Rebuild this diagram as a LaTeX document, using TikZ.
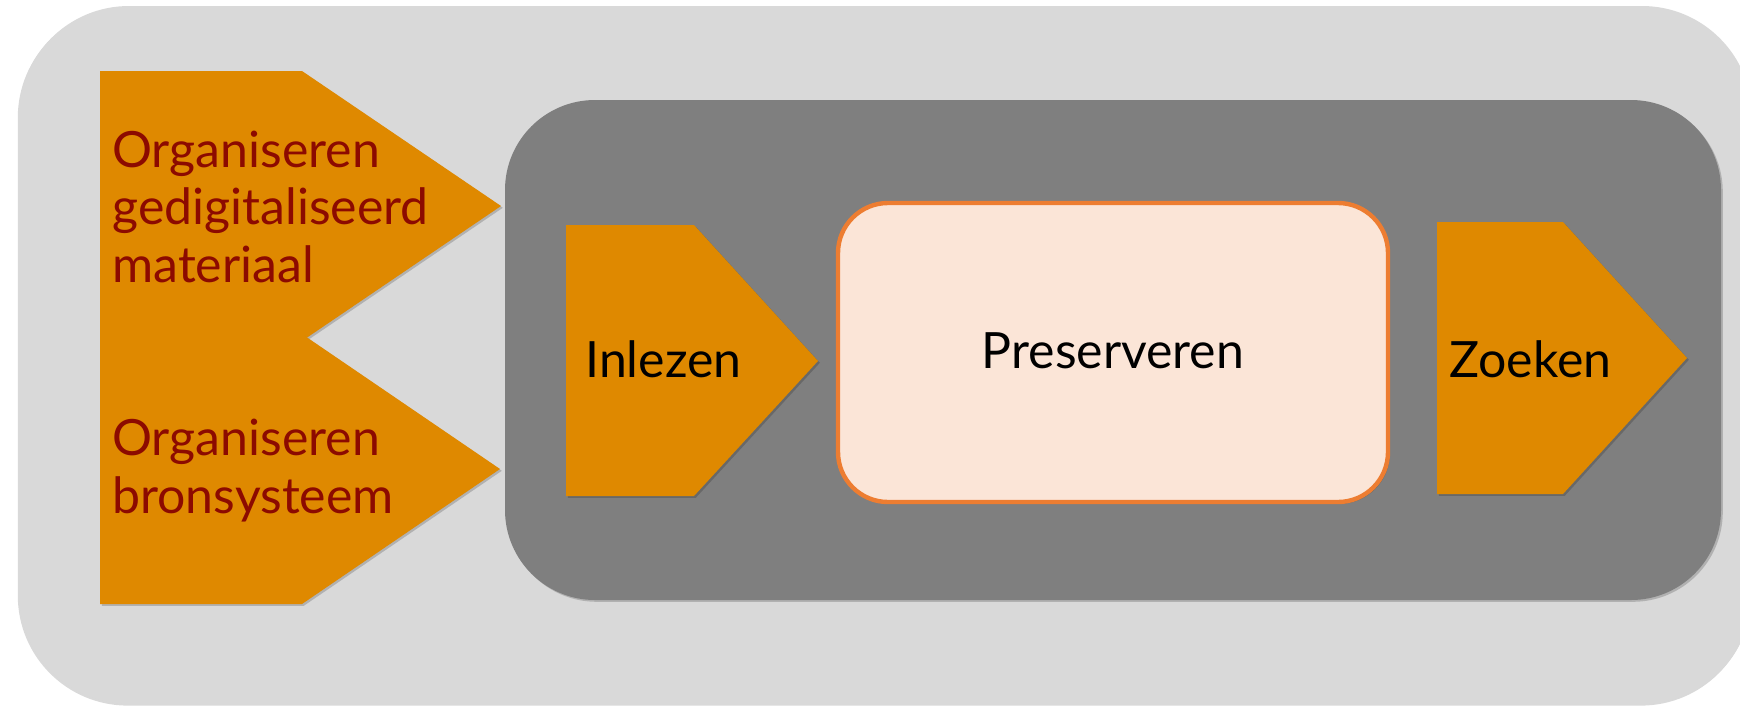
\documentclass[tikz,border=0pt]{standalone}
\usepackage{fontspec}
\setmainfont{Lato}
\usetikzlibrary{shadows}

\definecolor{outergrey}{HTML}{D9D9D9}
\definecolor{innergrey}{HTML}{7F7F7F}
\definecolor{steporange}{HTML}{DF8900}
\definecolor{labelred}{HTML}{8C0A00}
\definecolor{keepfill}{HTML}{FBE5D7}
\definecolor{keepline}{HTML}{ED7D31}

\tikzset{
  softshadow/.style={drop shadow={shadow xshift=.9pt, shadow yshift=-.9pt, opacity=.18, fill=black}},
  outerpanel/.style={fill=outergrey, rounded corners=55pt, drop shadow={shadow xshift=-.6pt, shadow yshift=-.8pt, opacity=.15, fill=black}},
  innerpanel/.style={fill=innergrey, rounded corners=45pt, softshadow},
  chevron/.style={fill=steporange, softshadow},
  keepbox/.style={fill=keepfill, draw=keepline, line width=2.2pt, rounded corners=25pt, softshadow},
  steptext/.style={font=\fontsize{25}{28.75}\selectfont, inner sep=0pt, anchor=base west, align=left},
}

\begin{document}
\begin{tikzpicture}[x=0.5pt, y=-0.5pt]
\useasboundingbox (0,0) rectangle (1740,708);

%% Outer and inner panels
\path[outerpanel] (19,6) rectangle (1752,704);
\path[innerpanel] (505,100) rectangle (1721,600);

%% Left chevrons: gedigitaliseerd materiaal, then bronsysteem on top of it
\path[chevron] (100,71) -- (302,71) -- (501,206) -- (302,341) -- (100,341) -- cycle;
\node[steptext, text=labelred] (orgdig) at (112,282) {Organiseren\\gedigitaliseerd\\materiaal};
\path[chevron] (100,334) -- (302,334) -- (500,469) -- (302,604) -- (100,604) -- cycle;
\node[steptext, text=labelred] (orgbron) at (112,513) {Organiseren\\bronsysteem};

%% Inlezen
\path[chevron] (566,225) -- (694,225) -- (818,361) -- (694,496) -- (566,496) -- cycle;
\node[steptext] (inlezen) at (585,377) {Inlezen};

%% Preserveren
\path[keepbox] (838,203) rectangle (1388,502);
\node[steptext, anchor=base] (preserveren) at (1113,368) {Preserveren};

%% Zoeken
\path[chevron] (1437,222) -- (1563,222) -- (1687,358) -- (1563,494) -- (1437,494) -- cycle;
\node[steptext] (zoeken) at (1449,377) {Zoeken};

\end{tikzpicture}
\end{document}
